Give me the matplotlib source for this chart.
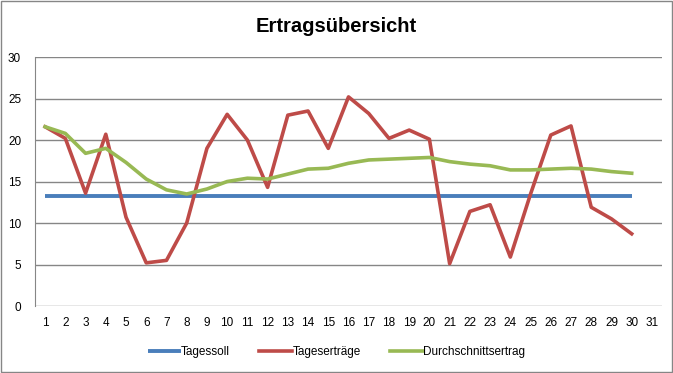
import matplotlib.pyplot as plt
from matplotlib.patches import Rectangle

days = list(range(1, 31))
tagessoll = [13.2] * 30
tagesertraege = [21.6, 20.2, 13.6, 20.7, 10.7, 5.2, 5.5, 10.0, 19.0, 23.1,
                 20.0, 14.3, 23.0, 23.5, 19.0, 25.2, 23.2, 20.2, 21.2, 20.1,
                 5.1, 11.4, 12.2, 5.9, 13.5, 20.6, 21.7, 11.9, 10.5, 8.7]
durchschnitt = [21.6, 20.8, 18.4, 19.0, 17.3, 15.3, 14.0, 13.5, 14.1, 15.0,
                15.4, 15.3, 15.9, 16.5, 16.6, 17.2, 17.6, 17.7, 17.8, 17.9,
                17.4, 17.1, 16.9, 16.4, 16.4, 16.5, 16.6, 16.5, 16.2, 16.0]
xticks = list(range(1, 32))

plt.rcParams['font.family'] = ['Liberation Sans', 'DejaVu Sans']

fig = plt.figure(figsize=(6.73, 3.73), dpi=100)
ax = fig.add_axes([0.052, 0.1796, 0.9317, 0.6674])

ax.plot(days, tagessoll, color='#4a7ebb', lw=2.8, label='Tagessoll', solid_capstyle='butt')
ax.plot(days, tagesertraege, color='#be4b48', lw=2.6, label='Tageserträge')
ax.plot(days, durchschnitt, color='#98b954', lw=2.6, label='Durchschnittsertrag')

ax.set_xlim(0.5, 31.5)
ax.set_ylim(0, 30)
ax.set_yticks(range(0, 31, 5))
ax.set_xticks(xticks)
ax.tick_params(axis='both', length=0, labelsize=8.5, colors='black')
ax.tick_params(axis='x', pad=8)
ax.tick_params(axis='y', pad=10)
ax.grid(axis='y', color='#868686', lw=1)
ax.set_axisbelow(True)
for s in ['top', 'right', 'bottom']:
    ax.spines[s].set_visible(False)
ax.spines['left'].set_color('#868686')

fig.text(0.5, 0.93, 'Ertragsübersicht', ha='center', va='center',
         fontsize=14.5, fontweight='bold')

fig.legend(loc='center', bbox_to_anchor=(0.5, 0.057), ncol=3, frameon=False,
           fontsize=8.5, handlelength=2.8, handletextpad=0.0, columnspacing=2.5)

fig.patches.append(Rectangle((0.001, 0.002), 0.997, 0.995, transform=fig.transFigure,
                             fill=False, edgecolor='#868686', lw=1))

fig.savefig('out.png', dpi=100)
